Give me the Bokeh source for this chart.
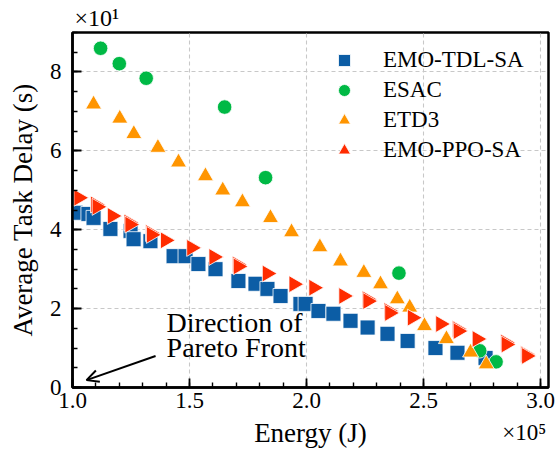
import math
from bokeh.plotting import figure
from bokeh.models import (FixedTicker, Legend, LegendItem, Label, Arrow, OpenHead, Range1d,
                          Title, LinearAxis)
from bokeh.embed import file_html
from bokeh.resources import INLINE

# Energy in units of 1e5 J, delay in units of 10 s (as shown on the axes)
tdl_energy = [1.013, 1.068, 1.090, 1.162, 1.248, 1.261, 1.333, 1.432, 1.483, 1.538, 1.611,
              1.709, 1.782, 1.833, 1.889, 1.974, 1.996, 2.051, 2.115, 2.188, 2.261, 2.346,
              2.432, 2.551, 2.645, 2.765]
tdl_delay = [4.43, 4.40, 4.30, 4.02, 3.97, 3.76, 3.71, 3.33, 3.33, 3.13, 3.00,
             2.70, 2.63, 2.50, 2.32, 2.12, 2.12, 1.94, 1.87, 1.69, 1.52, 1.36,
             1.18, 1.00, 0.88, 0.75]

esac_energy = [1.12, 1.20, 1.315, 1.65, 1.825, 2.395, 2.74, 2.81]
esac_delay = [8.60, 8.21, 7.84, 7.11, 5.32, 2.90, 0.93, 0.65]

etd3_energy = [1.090, 1.202, 1.262, 1.365, 1.453, 1.568, 1.642, 1.726, 1.846, 1.936,
               2.057, 2.145, 2.245, 2.316, 2.388, 2.441, 2.504, 2.598, 2.701, 2.768]
etd3_delay = [7.18, 6.82, 6.43, 6.08, 5.71, 5.36, 5.00, 4.70, 4.30, 3.94,
              3.56, 3.20, 2.91, 2.62, 2.24, 2.03, 1.56, 1.23, 0.89, 0.59]

ppo_energy = [1.027, 1.098, 1.105, 1.170, 1.241, 1.245, 1.333, 1.337, 1.397, 1.509, 1.604,
              1.704, 1.708, 1.832, 1.946, 2.031, 2.159, 2.259, 2.262, 2.352, 2.355, 2.452,
              2.573, 2.644, 2.648, 2.729, 2.850, 2.853, 2.936, 2.940]
ppo_delay = [4.81, 4.64, 4.58, 4.35, 4.18, 4.13, 3.92, 3.87, 3.73, 3.54, 3.31,
             3.12, 3.07, 2.89, 2.62, 2.53, 2.32, 2.24, 2.19, 1.94, 1.89, 1.77,
             1.61, 1.48, 1.43, 1.23, 1.14, 1.09, 0.84, 0.80]

series_names = ["EMO-TDL-SA", "ESAC", "ETD3", "EMO-PPO-SA"]
x_ticks = [1.0, 1.5, 2.0, 2.5, 3.0]
y_ticks = [0, 2, 4, 6, 8]
x_label = "Energy (J)"
y_label = "Average Task Delay (s)"
x_exp = "×10⁵"
y_exp = "×10¹"
x_exp_pos = 2.93   # where the x multiplier text is centred along the x axis
note_lines = ["Direction of", "Pareto Front"]

FONT = "Liberation Serif"
C_BLUE, C_GREEN, C_ORANGE, C_RED = "#0C5DA5", "#00B945", "#FF9500", "#FF2C00"

p = figure(width=559, height=454, output_backend="svg", toolbar_location=None,
           x_range=Range1d(1.0, 3.034), y_range=Range1d(0, 9),
           min_border_left=72, min_border_right=11, min_border_top=32, min_border_bottom=67)
p.background_fill_color = "white"
p.border_fill_color = "white"
p.outline_line_color = "black"
p.outline_line_width = 2.5

xax = p.xaxis[0]
yax = p.yaxis[0]
xax.ticker = FixedTicker(ticks=x_ticks,
                         minor_ticks=[round(1.0 + 0.1 * i, 2) for i in range(21)])
yax.ticker = FixedTicker(ticks=y_ticks, minor_ticks=[0.5 * i for i in range(19)])
xax.major_label_overrides = {t: f"{t:.1f}" for t in x_ticks}
yax.major_label_overrides = {t: f"{t}" for t in y_ticks}

for ax in (xax, yax):
    ax.axis_line_color = "black"
    ax.axis_line_width = 2.5
    ax.major_tick_in = 9
    ax.major_tick_out = 0
    ax.minor_tick_in = 5
    ax.minor_tick_out = 0
    ax.major_tick_line_width = 1.8
    ax.minor_tick_line_width = 1.4
    ax.major_label_text_font = FONT
    ax.major_label_text_font_size = "23px"
    ax.major_label_text_color = "black"
    ax.axis_label_text_font = FONT
    ax.axis_label_text_font_size = "27px"
    ax.axis_label_text_font_style = "normal"
    ax.axis_label_text_color = "black"

yax.axis_label = y_label
xax.major_label_standoff = 5
yax.major_label_standoff = 11
yax.axis_label_standoff = 9

# second bottom axis carrying the x multiplier and the x axis title on one band
xax2 = LinearAxis(ticker=FixedTicker(ticks=[x_exp_pos], minor_ticks=[]),
                  major_label_overrides={x_exp_pos: x_exp},
                  axis_label=x_label,
                  axis_line_color=None, major_tick_in=0, major_tick_out=0,
                  minor_tick_in=0, minor_tick_out=0,
                  major_label_standoff=9, axis_label_standoff=-30,
                  major_label_text_font=FONT, major_label_text_font_size="23px",
                  major_label_text_color="black",
                  axis_label_text_font=FONT, axis_label_text_font_size="27px",
                  axis_label_text_font_style="normal", axis_label_text_color="black")
p.add_layout(xax2, "below")

for g in (p.xgrid[0], p.ygrid[0]):
    g.grid_line_color = "#c8c8c8"
    g.grid_line_dash = "4 3"
    g.grid_line_width = 1.1

r_tdl = p.scatter(tdl_energy, tdl_delay, marker="square", size=15,
                  fill_color=C_BLUE, line_color="white", line_width=0.8)
r_esac = p.scatter(esac_energy, esac_delay, marker="circle", size=14.5,
                   fill_color=C_GREEN, line_color="white", line_width=0.8)
r_etd3 = p.scatter(etd3_energy, etd3_delay, marker="triangle", size=16,
                   fill_color=C_ORANGE, line_color="white", line_width=0.8)
r_ppo = p.scatter(ppo_energy, ppo_delay, marker="triangle", size=17, angle=-math.pi / 2,
                  fill_color=C_RED, line_color="white", line_width=0.8)

legend = Legend(items=[LegendItem(label=n, renderers=[r]) for n, r in
                       zip(series_names, [r_tdl, r_esac, r_etd3, r_ppo])],
                location=(257, 222), orientation="vertical",
                glyph_width=30, glyph_height=30, label_height=30, spacing=0,
                padding=0, margin=0, label_standoff=24,
                background_fill_alpha=0, border_line_alpha=0,
                label_text_font=FONT, label_text_font_size="23px", label_text_color="black")
p.add_layout(legend)

# annotation: arrow and text
ARROW_FROM = (1.355, 0.80)
ARROW_TO = (1.060, 0.187)
p.add_layout(Arrow(end=OpenHead(size=12, line_width=2, line_color="black"),
                   x_start=ARROW_FROM[0], y_start=ARROW_FROM[1],
                   x_end=ARROW_TO[0], y_end=ARROW_TO[1],
                   line_width=2, line_color="black"))
NOTE_X = 1.402
NOTE_Y = [1.646, 1.005]
for txt, yy in zip(note_lines, NOTE_Y):
    p.add_layout(Label(x=NOTE_X, y=yy, text=txt, text_font=FONT, text_font_size="28px",
                       text_baseline="alphabetic", text_align="left", text_color="black"))

# y multiplier above the frame
p.add_layout(Title(text=y_exp, align="left", text_font=FONT, text_font_size="24px",
                   text_font_style="normal", text_color="black", offset=2, standoff=4),
             "above")

open("out.html", "w").write(file_html(p, INLINE))
